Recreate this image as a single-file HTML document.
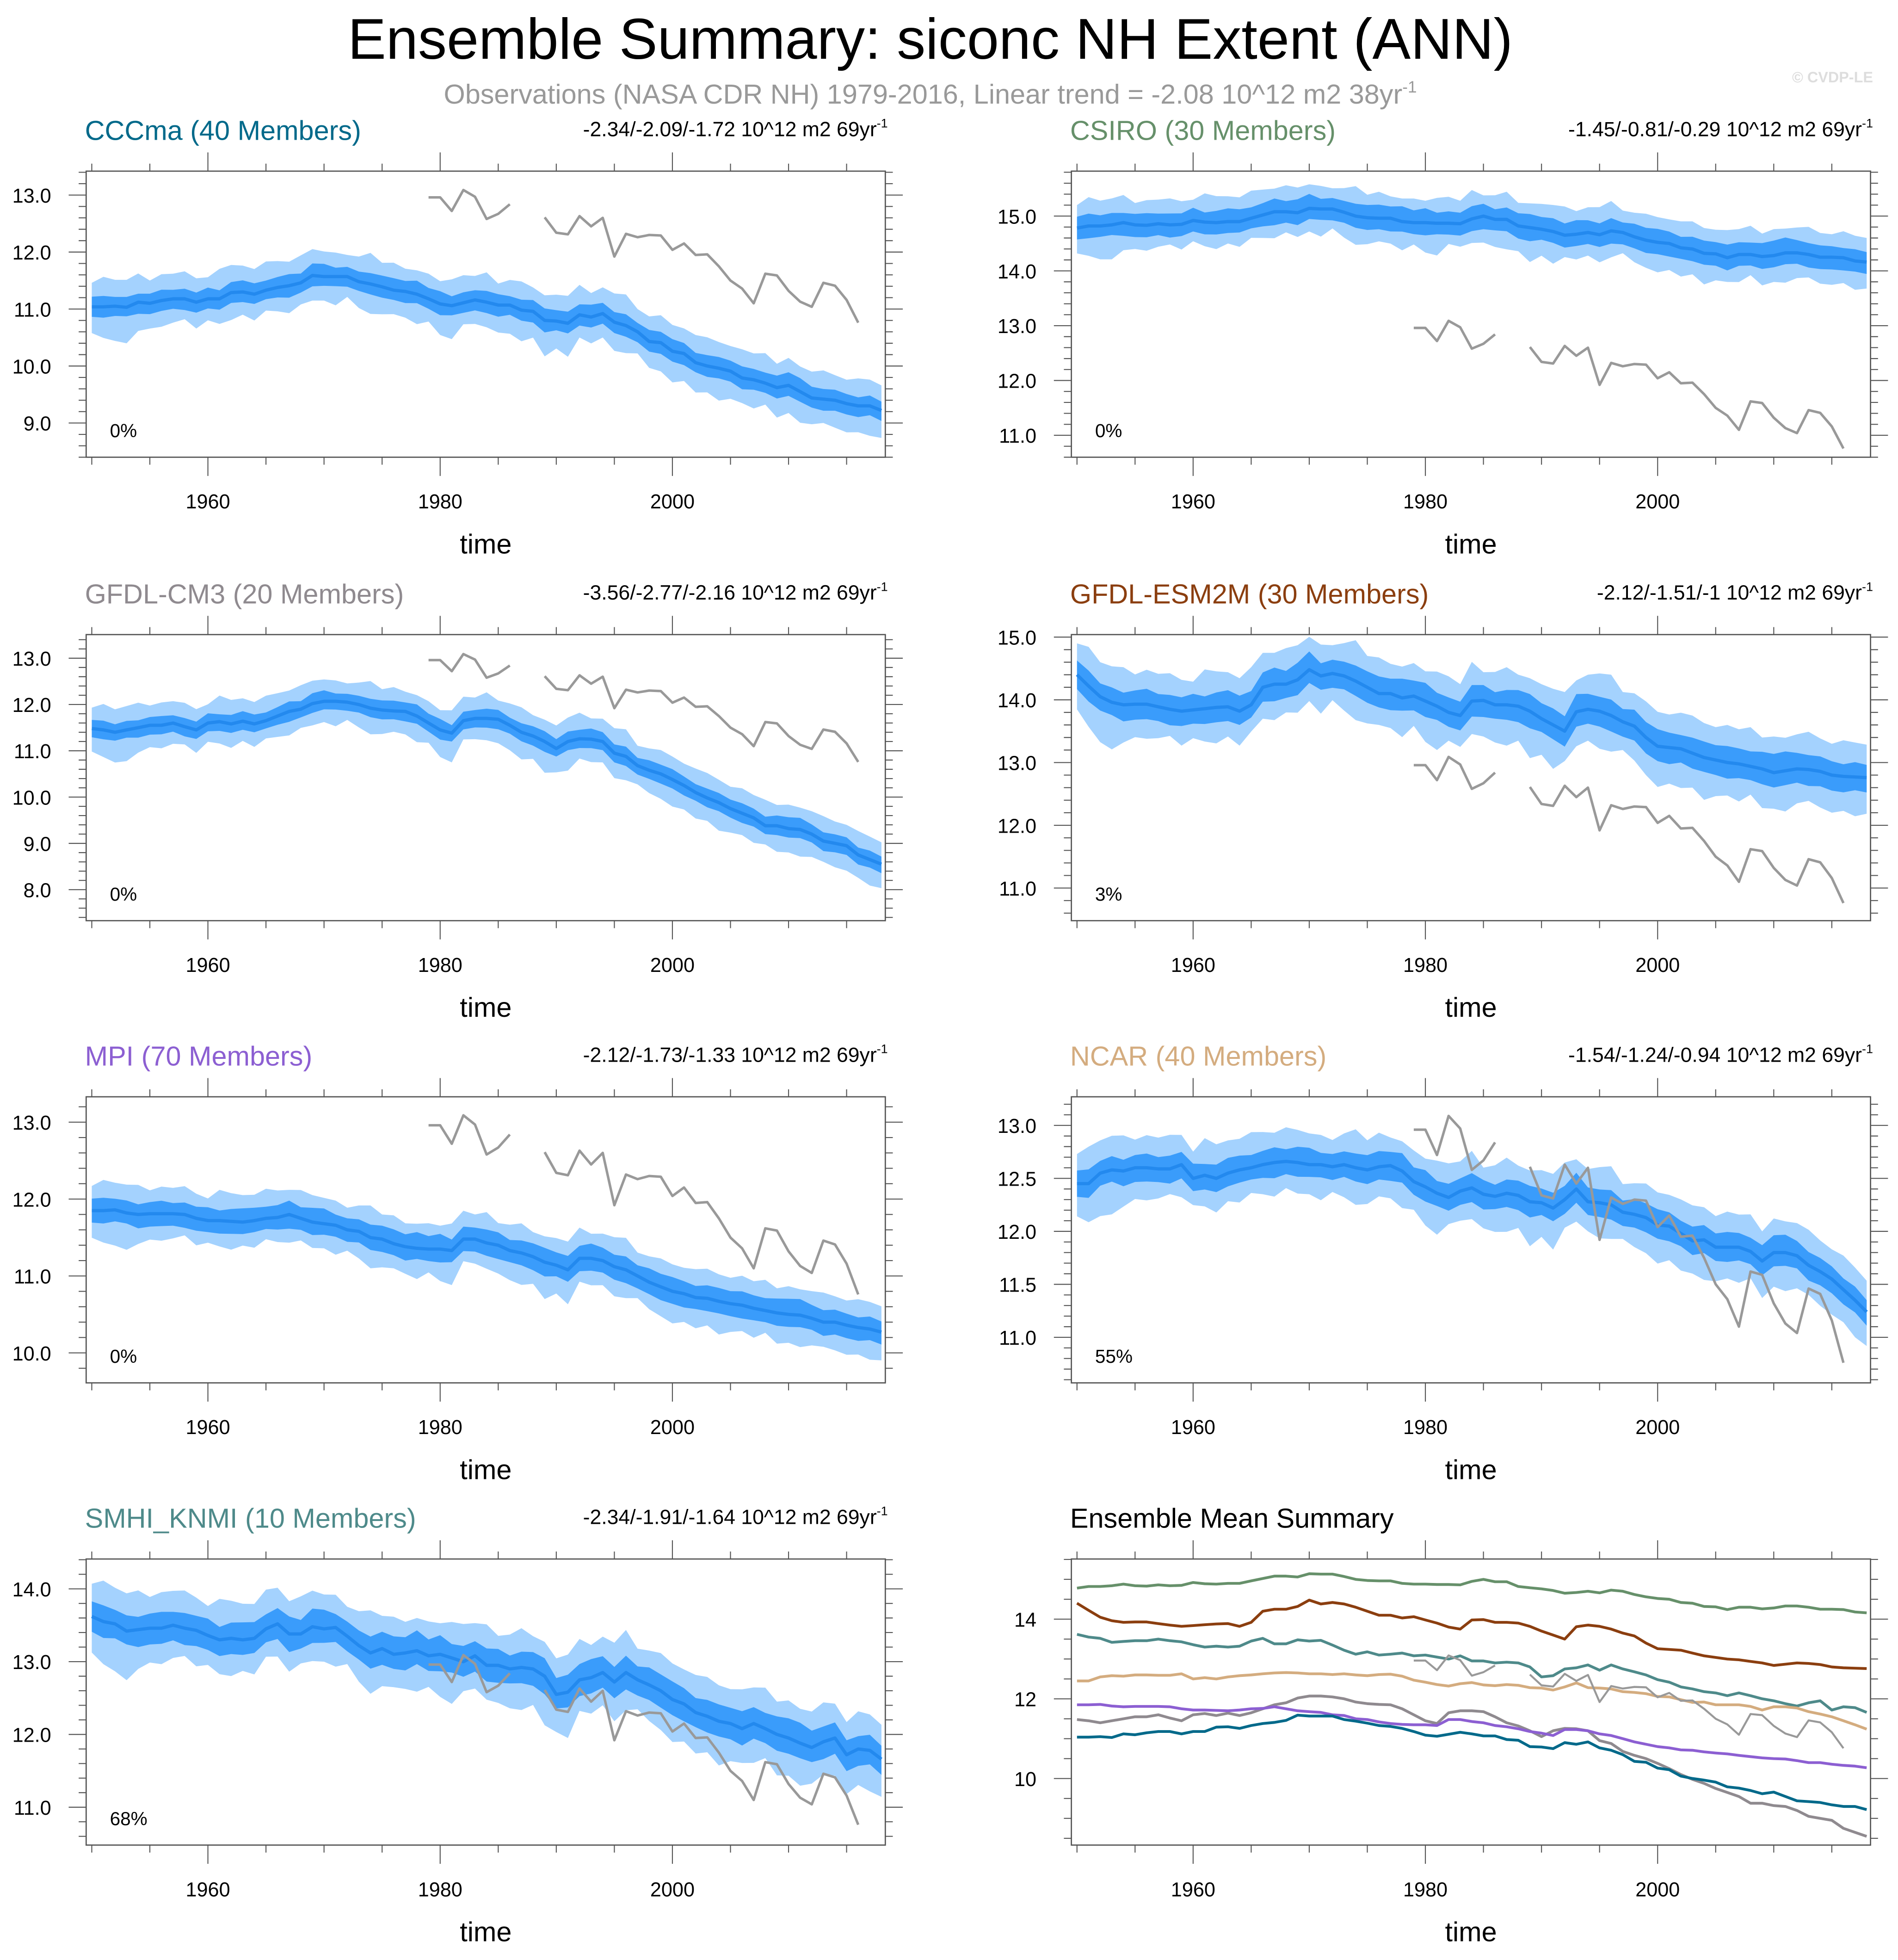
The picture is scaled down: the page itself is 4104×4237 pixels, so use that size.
<!DOCTYPE html>
<html><head><meta charset="utf-8"><style>
html,body{margin:0;padding:0;background:#fff}
svg{display:block}
text{font-family:"Liberation Sans",sans-serif}
</style></head><body>
<svg id="chart" width="4104" height="4237" viewBox="0 0 1520 1569" preserveAspectRatio="none" xmlns="http://www.w3.org/2000/svg">
<text x="745" y="47" font-size="46" text-anchor="middle" fill="#000">Ensemble Summary: siconc NH Extent (ANN)</text>
<text x="745" y="83" font-size="22" text-anchor="middle" fill="#999">Observations (NASA CDR NH) 1979-2016, Linear trend = -2.08 10^12 m2 38yr<tspan dy="-9" font-size="13">-1</tspan></text>
<text x="1500" y="66" font-size="12" font-weight="bold" text-anchor="end" fill="#ddd">© CVDP-LE</text>
<g id="panels"></g>
</svg>
<script>
const years = [];
for (let y = 1950; y <= 2018; y++) years.push(y);
const obsYears = [];
for (let y = 1979; y <= 2016; y++) obsYears.push(y);
const obsValues = [12.96,12.96,12.72,13.09,12.97,12.58,12.67,12.84,null,null,12.61,12.34,12.31,12.63,12.45,12.6,11.92,12.32,12.26,12.3,12.29,12.04,12.15,11.95,11.96,11.75,11.5,11.36,11.1,11.62,11.59,11.32,11.13,11.04,11.46,11.41,11.16,10.76];

const meanCCCma = [11.04,11.04,11.05,11.03,11.12,11.10,11.15,11.18,11.18,11.12,11.18,11.18,11.29,11.30,11.26,11.33,11.38,11.41,11.46,11.59,11.57,11.57,11.57,11.48,11.44,11.39,11.33,11.31,11.26,11.18,11.09,11.06,11.11,11.16,11.12,11.07,11.07,10.98,10.96,10.80,10.79,10.75,10.90,10.86,10.92,10.77,10.71,10.60,10.43,10.41,10.26,10.22,10.06,10.00,9.96,9.91,9.79,9.76,9.70,9.62,9.66,9.55,9.44,9.42,9.40,9.34,9.30,9.30,9.22];
const meanCSIRO = [14.78,14.82,14.82,14.84,14.88,14.84,14.83,14.86,14.84,14.85,14.92,14.89,14.88,14.90,14.90,14.96,15.02,15.08,15.08,15.06,15.14,15.13,15.13,15.07,15.00,14.97,14.96,14.96,14.90,14.88,14.88,14.87,14.87,14.86,14.95,15.00,14.94,14.94,14.82,14.79,14.76,14.72,14.65,14.67,14.70,14.66,14.73,14.70,14.62,14.56,14.52,14.50,14.42,14.40,14.32,14.31,14.24,14.30,14.30,14.26,14.28,14.33,14.33,14.30,14.25,14.25,14.24,14.18,14.16];
const meanGFDLCM3 = [11.48,11.45,11.40,11.45,11.50,11.55,11.55,11.60,11.52,11.45,11.60,11.63,11.58,11.64,11.58,11.65,11.75,11.85,11.90,12.02,12.07,12.07,12.05,12.00,11.92,11.88,11.86,11.85,11.75,11.60,11.45,11.38,11.65,11.70,11.70,11.68,11.55,11.40,11.32,11.20,11.05,11.20,11.26,11.25,11.20,10.95,10.88,10.68,10.58,10.50,10.38,10.25,10.10,9.98,9.88,9.75,9.65,9.55,9.38,9.38,9.32,9.30,9.20,9.05,9.00,8.95,8.75,8.65,8.55];
const meanESM2M = [14.40,14.22,14.05,13.96,13.92,13.93,13.93,13.89,13.85,13.82,13.84,13.86,13.88,13.89,13.82,13.92,14.20,14.25,14.25,14.32,14.48,14.38,14.42,14.38,14.30,14.20,14.10,14.10,14.03,14.06,13.98,13.90,13.80,13.75,13.98,13.99,13.92,13.92,13.90,13.82,13.70,13.60,13.50,13.81,13.85,13.82,13.75,13.65,13.58,13.40,13.26,13.24,13.22,13.15,13.08,13.04,13.00,12.98,12.94,12.90,12.84,12.87,12.90,12.89,12.86,12.80,12.78,12.77,12.76];
const meanMPI = [11.85,11.85,11.86,11.82,11.80,11.81,11.81,11.81,11.80,11.75,11.72,11.72,11.71,11.70,11.72,11.75,11.76,11.80,11.75,11.70,11.68,11.66,11.60,11.58,11.50,11.48,11.42,11.38,11.36,11.35,11.35,11.33,11.48,11.48,11.43,11.40,11.33,11.30,11.25,11.18,11.14,11.08,11.23,11.23,11.20,11.12,11.08,11.00,10.92,10.86,10.80,10.77,10.72,10.71,10.67,10.64,10.62,10.58,10.55,10.52,10.50,10.49,10.45,10.40,10.40,10.36,10.33,10.31,10.27];
const meanNCAR = [12.45,12.45,12.55,12.58,12.57,12.60,12.60,12.59,12.59,12.63,12.50,12.53,12.50,12.55,12.58,12.60,12.63,12.65,12.66,12.65,12.63,12.63,12.61,12.63,12.60,12.58,12.61,12.62,12.57,12.47,12.42,12.36,12.32,12.38,12.41,12.35,12.33,12.36,12.34,12.28,12.27,12.22,12.30,12.40,12.28,12.27,12.25,12.18,12.16,12.13,12.06,12.05,11.98,11.91,11.92,11.85,11.85,11.85,11.81,11.72,11.80,11.80,11.77,11.68,11.62,11.55,11.45,11.35,11.24];
const meanSMHI = [13.62,13.55,13.52,13.42,13.44,13.46,13.46,13.50,13.46,13.43,13.36,13.30,13.32,13.30,13.32,13.45,13.52,13.38,13.38,13.48,13.45,13.47,13.35,13.22,13.12,13.18,13.10,13.12,13.15,13.08,13.10,13.05,13.00,13.08,12.95,12.95,12.90,12.92,12.90,12.80,12.55,12.58,12.75,12.78,12.85,12.72,12.85,12.75,12.68,12.60,12.48,12.42,12.30,12.25,12.18,12.15,12.08,12.15,12.08,12.00,11.95,11.88,11.82,11.90,11.95,11.72,11.80,11.78,11.66];

const jitLo = [0.2,0.6,0.9,1.0,0.4,0.1,0.2,0.0,-0.3,0.2,-0.2,0.1,0.3,-0.1,0.2,-0.3,0.0,0.3,-0.2,0.1,0.0,0.4,-0.3,0.2,0.5,0.3,0.0,0.2,0.5,-0.1,0.6,0.8,-0.2,0.0,0.1,0.3,0.4,0.6,0.2,1.0,0.3,0.8,-0.1,0.2,0.0,0.4,0.3,-0.2,0.2,0.4,0.6,0.3,0.5,0.2,0.7,0.3,0.1,0.4,-0.2,0.5,0.3,0.6,0.2,0.0,0.3,0.4,0.2,0.5,0.3];
const jitHi = [0.0,0.5,0.2,0.3,0.4,-0.1,0.2,0.1,0.3,0.0,-0.2,0.5,0.3,0.2,0.1,0.4,0.2,0.0,0.3,0.2,0.1,0.0,-0.2,0.1,0.6,0.0,0.3,-0.1,0.0,0.1,-0.1,0.2,0.3,0.0,0.5,-0.2,0.1,0.4,0.0,0.1,0.2,0.3,0.5,0.0,0.2,0.4,0.6,-0.1,0.1,0.3,0.2,0.1,0.3,0.4,0.2,0.1,0.4,0.2,0.5,0.0,0.3,0.1,0.2,0.4,0.1,0.0,0.3,0.2,0.1];

const panelNames = ["CCCma (40 Members)","CSIRO (30 Members)","GFDL-CM3 (20 Members)","GFDL-ESM2M (30 Members)","MPI (70 Members)","NCAR (40 Members)","SMHI_KNMI (10 Members)"];
const panelColors = ["#00698a","#66906a","#8f8a8f","#8b3e0f","#8c5fd2","#d4ac7f","#4e8a8a"];
const trendTexts = ["-2.34/-2.09/-1.72 10^12 m2 69yr","-1.45/-0.81/-0.29 10^12 m2 69yr","-3.56/-2.77/-2.16 10^12 m2 69yr","-2.12/-1.51/-1 10^12 m2 69yr","-2.12/-1.73/-1.33 10^12 m2 69yr","-1.54/-1.24/-0.94 10^12 m2 69yr","-2.34/-1.91/-1.64 10^12 m2 69yr"];
const pctTexts = ["0%","0%","0%","3%","0%","55%","68%"];
const means = [meanCCCma,meanCSIRO,meanGFDLCM3,meanESM2M,meanMPI,meanNCAR,meanSMHI];
const innerW = [0.17,0.2,0.18,0.22,0.15,0.12,0.2];
const outerW = [0.42,0.42,0.45,0.5,0.32,0.28,0.45];
const yMins = [8.4,10.6,7.33,10.48,9.61,10.57,10.48,8.33];
const yMaxs = [13.42,15.82,13.51,15.04,13.33,13.27,14.41,15.51];
const yLabelTicks = [[9,10,11,12,13],[11,12,13,14,15],[8,9,10,11,12,13],[11,12,13,14,15],[10,11,12,13],[11,11.5,12,12.5,13],[11,12,13,14],[10,12,14]];
const yMinorStep = [0.2,0.2,0.2,0.2,0.2,0.1,0.2,0.5];
const xLabelTicks = [1960,1980,2000];

const NS = "http://www.w3.org/2000/svg";
const root = document.getElementById('panels');
function mk(tag, attrs, parent){const e=document.createElementNS(NS,tag);for(const k in attrs)e.setAttribute(k,attrs[k]);(parent||root).appendChild(e);return e;}

const colL = [69,858], rowT = [137,508,878,1248], PW = 640, PH = 229;

function drawPanel(p){
  const L = colL[p%2], T = rowT[Math.floor(p/2)], R = L+PW, B = T+PH;
  const g = mk('g',{});
  
  
  const ymin=yMins[p], ymax=yMaxs[p];
  const X = yr => L+4.5+(yr-1950)*9.3;
  const Y = v => B-(v-ymin)/(ymax-ymin)*PH;
  const clip = mk('clipPath',{id:'c'+p},g);
  mk('rect',{x:L,y:T,width:PW,height:PH},clip);
  const pg = mk('g',{'clip-path':'url(#c'+p+')'},g);
  if(p<7){
    const m = means[p];
    const band=(lo,hi,col,name)=>{
      let d='';
      years.forEach((yr,i)=>{d+=(i?'L':'M')+X(yr).toFixed(1)+' '+Y(hi[i]).toFixed(1);});
      for(let i=years.length-1;i>=0;i--) d+='L'+X(years[i]).toFixed(1)+' '+Y(lo[i]).toFixed(1);
      const e=mk('path',{d:d+'Z',fill:col},pg);
      
      
    };
    const oLo=m.map((v,i)=>v-outerW[p]*(1+0.5*jitLo[i])), oHi=m.map((v,i)=>v+outerW[p]*(1+0.5*jitHi[i]));
    const iLo=m.map((v,i)=>v-innerW[p]*(1+0.4*jitHi[(i+7)%69])), iHi=m.map((v,i)=>v+innerW[p]*(1+0.4*jitLo[(i+11)%69]));
    band(oLo,oHi,'#a4d2fe','outer-spread-band');
    band(iLo,iHi,'#3a9cfb','inner-spread-band');
    const ml=mk('polyline',{points:years.map((yr,i)=>X(yr).toFixed(1)+','+Y(m[i]).toFixed(1)).join(' '),fill:'none',stroke:'#2389ee','stroke-width':2.6,'stroke-linejoin':'round'},pg);
    
    
  } else {
    const order=[1,3,6,5,2,4,0];
    order.forEach(k=>{
      const l=mk('polyline',{points:years.map((yr,i)=>X(yr).toFixed(1)+','+Y(means[k][i]).toFixed(1)).join(' '),fill:'none',stroke:panelColors[k],'stroke-width':2.2,'stroke-linejoin':'round'},pg);
      
      
    });
  }
  let segs=[],cur=[];
  obsYears.forEach((yr,i)=>{if(obsValues[i]==null){if(cur.length)segs.push(cur);cur=[];}else cur.push(X(yr).toFixed(1)+','+Y(obsValues[i]).toFixed(1));});
  if(cur.length)segs.push(cur);
  segs.forEach(s=>{
    const o=mk('polyline',{points:s.join(' '),fill:'none',stroke:'#999','stroke-width':p<7?2:1.6,'stroke-linejoin':'round'},pg);
    
    
  });
  const fr=mk('rect',{x:L,y:T,width:PW,height:PH,fill:'none',stroke:'#555','stroke-width':1},g);
  
  
  for(let yr=1950; yr<=2015; yr+=5){
    const x=X(yr), maj=(yr%20===0);
    const len=maj?15:6;
    mk('line',{x1:x,y1:B,x2:x,y2:B+len,stroke:'#555','stroke-width':0.8},g);
    mk('line',{x1:x,y1:T,x2:x,y2:T-len,stroke:'#555','stroke-width':0.8},g);
  }
  xLabelTicks.forEach(yr=>{
    const t=mk('text',{x:X(yr),y:B+41,'font-size':16,'text-anchor':'middle',fill:'#000'},g);
    t.textContent=yr;
    
    
  });
  const xt=mk('text',{x:L+320,y:B+77,'font-size':22,'text-anchor':'middle',fill:'#000'},g);
  xt.textContent='time';
  
  
  const st=yMinorStep[p];
  for(let v=Math.ceil(ymin/st-1e-6)*st; v<=ymax+1e-6; v+=st){
    const y=Y(v);
    const maj=yLabelTicks[p].some(t=>Math.abs(t-v)<1e-6);
    const len=maj?14:6;
    mk('line',{x1:L,y1:y,x2:L-len,y2:y,stroke:'#555','stroke-width':0.8},g);
    mk('line',{x1:R,y1:y,x2:R+len,y2:y,stroke:'#555','stroke-width':0.8},g);
  }
  yLabelTicks[p].forEach(v=>{
    const t=mk('text',{x:L-28,y:Y(v)+6,'font-size':16,'text-anchor':'end',fill:'#000'},g);
    t.textContent=p<7?v.toFixed(1):String(v);
    
    
  });
  const ti=mk('text',{x:L-1,y:T-25,'font-size':22,fill:p<7?panelColors[p]:'#000'},g);
  ti.textContent=p<7?panelNames[p]:'Ensemble Mean Summary';
  
  
  if(p<7){
    const tr=mk('text',{x:R+2,y:T-28,'font-size':16.5,'text-anchor':'end',fill:'#000'},g);
    tr.textContent=trendTexts[p];
    const sup=mk('tspan',{dy:-7,'font-size':10},tr); sup.textContent='-1';
    
    
    const pc=mk('text',{x:L+19,y:B-16,'font-size':15,fill:'#000'},g);
    pc.textContent=pctTexts[p];
    
    
  }
}
for(let p=0;p<8;p++) drawPanel(p);
</script>
</body></html>
